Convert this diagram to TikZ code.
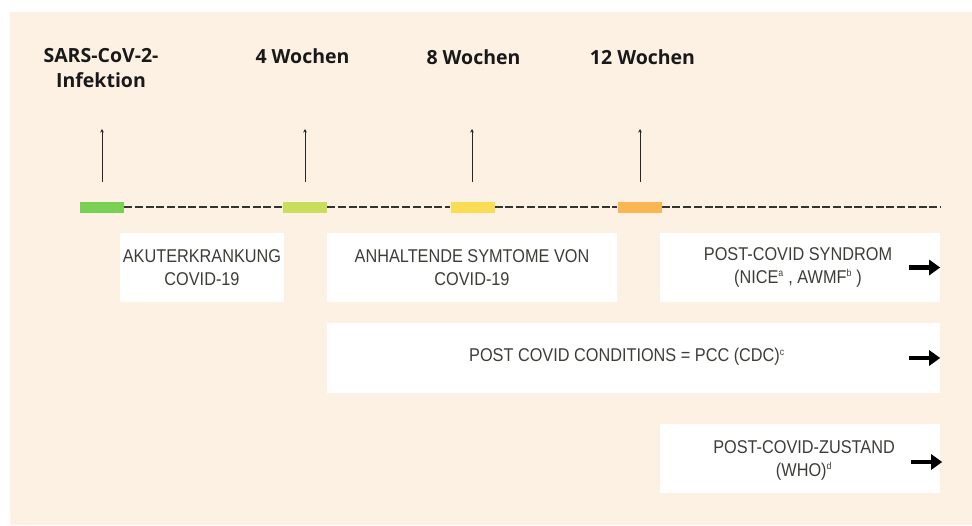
\documentclass[tikz,border=0pt]{standalone}
\usepackage{fontspec}
\setmainfont{Liberation Sans}[FakeStretch=0.88]
\newfontfamily\titlefont{Open Sans}
\usetikzlibrary{arrows.meta}
\definecolor{peach}{HTML}{FDF1E4}
\definecolor{boxtext}{HTML}{3C3E38}
\definecolor{cgreen}{HTML}{78D152}
\definecolor{clime}{HTML}{C8DF5C}
\definecolor{cyellow}{HTML}{FADC55}
\definecolor{corange}{HTML}{F9B653}
\tikzset{
  bar/.style={rectangle, inner sep=0pt, minimum width=44pt, minimum height=11pt, draw=none},
  title/.style={font=\titlefont\bfseries\fontsize{19.5}{25}\selectfont, text=black!90, align=center, inner sep=0pt},
  infobox/.style={rectangle, fill=white, draw=none, inner sep=0pt, align=center, text=boxtext,
    font=\fontsize{18.5}{23}\selectfont},
  tickarrow/.style={line width=0.9pt, black!85, -{Stealth[length=3.5pt,width=3.5pt]}},
  timeline/.style={line width=1.3pt, black!80, dash pattern=on 8pt off 2.7pt},
  bigarrow/.style={line width=4.5pt, black, -{Triangle[length=11pt,width=15pt]}},
}
\newcommand{\supr}[1]{\textsuperscript{\fontsize{10}{10}\selectfont #1}}
\begin{document}
\begin{tikzpicture}[x=1pt,y=-1pt]
\useasboundingbox (0,0) rectangle (972,525);
\fill[peach] (10,12) rectangle (972,525);

% titles
\node[title] (t1) at (101,68.5) {SARS-CoV-2-\\Infektion};
\node[title] (t2) at (302.5,56) {4 Wochen};
\node[title] (t3) at (473.5,57) {8 Wochen};
\node[title] (t4) at (642.5,57) {12 Wochen};

% bars
\node[bar, fill=cgreen] (g1) at (102,207) {};
\node[bar, fill=clime] (g2) at (305,207) {};
\node[bar, fill=cyellow] (g3) at (472.5,207) {};
\node[bar, fill=corange] (g4) at (639.5,207) {};
\coordinate (lend) at (940,207);

% tick arrows
\coordinate (a1) at (102,182);
\coordinate (a2) at (305,182);
\coordinate (a3) at (472,182);
\coordinate (a4) at (640,182);
\foreach \a in {a1,a2,a3,a4}{
  \draw[tickarrow] (\a) -- ++(0,-53);
}

% timeline
\draw[timeline] (g1.east) -- (g2.west);
\draw[timeline] (g2.east) -- (g3.west);
\draw[timeline] (g3.east) -- (g4.west);
\draw[timeline] (g4.east) -- (lend);

% boxes
\node[infobox, minimum width=164pt, minimum height=69pt] (b1) at (202,267.5) {AKUTERKRANKUNG\\COVID-19};
\node[infobox, minimum width=290pt, minimum height=69pt] (b2) at (472,267.5) {ANHALTENDE SYMTOME VON\\COVID-19};
\node[infobox, minimum width=280pt, minimum height=69pt] (b3) at (800,267.5) {};
\node[infobox, anchor=center] (b3t) at (798,267) {POST-COVID SYNDROM\\(NICE\supr{a} , AWMF\supr{b} )};
\node[infobox, minimum width=613pt, minimum height=70pt] (b4) at (633.5,358) {};
\node[infobox] (b4t) at (627,357) {POST COVID CONDITIONS = PCC (CDC)\supr{c}};
\node[infobox, minimum width=280pt, minimum height=69pt] (b5) at (800,458.5) {};
\node[infobox] (b5t) at (804,460) {POST-COVID-ZUSTAND\\(WHO)\supr{d}};

% arrows
\draw[bigarrow] ([xshift=-31pt]b3.east) -- (b3.east);
\draw[bigarrow] ([xshift=-31pt]b4.east) -- (b4.east);
\draw[bigarrow] ([xshift=-29pt,yshift=-3.5pt]b5.east) -- ([xshift=2pt,yshift=-3.5pt]b5.east);
\end{tikzpicture}
\end{document}
